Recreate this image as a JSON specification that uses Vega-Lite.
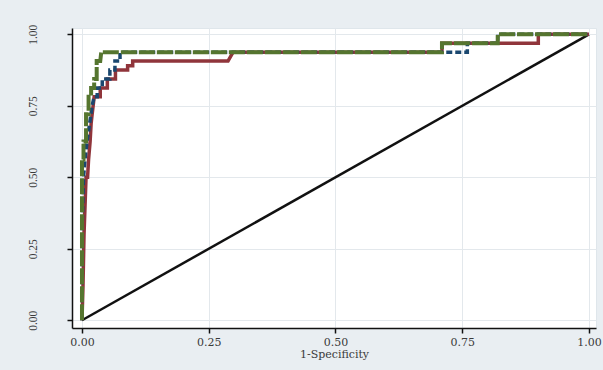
{
  "$schema": "https://vega.github.io/schema/vega-lite/v6.json",
  "width": 524,
  "height": 300,
  "autosize": "none",
  "padding": {"left": 72, "top": 28, "right": 7, "bottom": 42},
  "background": "#e9eef2",
  "config": {
    "view": {"fill": "white", "stroke": "#dfe6eb", "strokeWidth": 1},
    "font": "Liberation Serif",
    "axis": {
      "labelFont": "Liberation Serif",
      "titleFont": "DejaVu Serif",
      "labelFontSize": 11,
      "titleFontSize": 11,
      "titleFontWeight": "normal",
      "labelColor": "#3a3a3a",
      "titleColor": "#3a3a3a",
      "domainColor": "#111111",
      "domainWidth": 1.5,
      "tickColor": "#111111",
      "tickWidth": 1.5,
      "tickSize": 5,
      "gridColor": "#e3e8ec",
      "gridWidth": 1
    }
  },
  "datasets": {
    "roc": [
      {"model": "m1", "fpr": 0, "tpr": 0},
      {"model": "m1", "fpr": 0.002, "tpr": 0.12},
      {"model": "m1", "fpr": 0.004, "tpr": 0.3},
      {"model": "m1", "fpr": 0.006, "tpr": 0.4},
      {"model": "m1", "fpr": 0.008, "tpr": 0.5},
      {"model": "m1", "fpr": 0.011, "tpr": 0.5},
      {"model": "m1", "fpr": 0.013, "tpr": 0.5625},
      {"model": "m1", "fpr": 0.016, "tpr": 0.625},
      {"model": "m1", "fpr": 0.018, "tpr": 0.6875},
      {"model": "m1", "fpr": 0.02, "tpr": 0.72},
      {"model": "m1", "fpr": 0.022, "tpr": 0.75},
      {"model": "m1", "fpr": 0.024, "tpr": 0.78125},
      {"model": "m1", "fpr": 0.036, "tpr": 0.78125},
      {"model": "m1", "fpr": 0.036, "tpr": 0.8125},
      {"model": "m1", "fpr": 0.05, "tpr": 0.8125},
      {"model": "m1", "fpr": 0.05, "tpr": 0.84375},
      {"model": "m1", "fpr": 0.066, "tpr": 0.84375},
      {"model": "m1", "fpr": 0.066, "tpr": 0.875},
      {"model": "m1", "fpr": 0.09, "tpr": 0.875},
      {"model": "m1", "fpr": 0.09, "tpr": 0.89},
      {"model": "m1", "fpr": 0.1, "tpr": 0.89},
      {"model": "m1", "fpr": 0.1, "tpr": 0.90625},
      {"model": "m1", "fpr": 0.288, "tpr": 0.90625},
      {"model": "m1", "fpr": 0.298, "tpr": 0.9375},
      {"model": "m1", "fpr": 0.71, "tpr": 0.9375},
      {"model": "m1", "fpr": 0.71, "tpr": 0.96875},
      {"model": "m1", "fpr": 0.9, "tpr": 0.96875},
      {"model": "m1", "fpr": 0.9, "tpr": 1},
      {"model": "m1", "fpr": 1, "tpr": 1},
      {"model": "m2", "fpr": 0, "tpr": 0},
      {"model": "m2", "fpr": 0, "tpr": 0.3},
      {"model": "m2", "fpr": 0.003, "tpr": 0.5},
      {"model": "m2", "fpr": 0.006, "tpr": 0.5625},
      {"model": "m2", "fpr": 0.01, "tpr": 0.625},
      {"model": "m2", "fpr": 0.015, "tpr": 0.6875},
      {"model": "m2", "fpr": 0.02, "tpr": 0.75},
      {"model": "m2", "fpr": 0.024, "tpr": 0.78125},
      {"model": "m2", "fpr": 0.03, "tpr": 0.78125},
      {"model": "m2", "fpr": 0.03, "tpr": 0.8125},
      {"model": "m2", "fpr": 0.04, "tpr": 0.8125},
      {"model": "m2", "fpr": 0.04, "tpr": 0.84375},
      {"model": "m2", "fpr": 0.055, "tpr": 0.84375},
      {"model": "m2", "fpr": 0.055, "tpr": 0.875},
      {"model": "m2", "fpr": 0.065, "tpr": 0.875},
      {"model": "m2", "fpr": 0.065, "tpr": 0.90625},
      {"model": "m2", "fpr": 0.075, "tpr": 0.90625},
      {"model": "m2", "fpr": 0.075, "tpr": 0.9375},
      {"model": "m2", "fpr": 0.76, "tpr": 0.9375},
      {"model": "m2", "fpr": 0.76, "tpr": 0.96875},
      {"model": "m2", "fpr": 0.82, "tpr": 0.96875},
      {"model": "m2", "fpr": 0.82, "tpr": 1},
      {"model": "m2", "fpr": 1, "tpr": 1},
      {"model": "m3", "fpr": 0, "tpr": 0},
      {"model": "m3", "fpr": 0, "tpr": 0.5625},
      {"model": "m3", "fpr": 0.003, "tpr": 0.5625},
      {"model": "m3", "fpr": 0.003, "tpr": 0.625},
      {"model": "m3", "fpr": 0.008, "tpr": 0.625},
      {"model": "m3", "fpr": 0.008, "tpr": 0.72},
      {"model": "m3", "fpr": 0.013, "tpr": 0.72},
      {"model": "m3", "fpr": 0.013, "tpr": 0.78125},
      {"model": "m3", "fpr": 0.018, "tpr": 0.78125},
      {"model": "m3", "fpr": 0.018, "tpr": 0.8125},
      {"model": "m3", "fpr": 0.024, "tpr": 0.8125},
      {"model": "m3", "fpr": 0.024, "tpr": 0.84375},
      {"model": "m3", "fpr": 0.029, "tpr": 0.84375},
      {"model": "m3", "fpr": 0.029, "tpr": 0.90625},
      {"model": "m3", "fpr": 0.036, "tpr": 0.90625},
      {"model": "m3", "fpr": 0.038, "tpr": 0.9375},
      {"model": "m3", "fpr": 0.71, "tpr": 0.9375},
      {"model": "m3", "fpr": 0.71, "tpr": 0.96875},
      {"model": "m3", "fpr": 0.82, "tpr": 0.96875},
      {"model": "m3", "fpr": 0.82, "tpr": 1},
      {"model": "m3", "fpr": 1, "tpr": 1}
    ],
    "ref": [
      {"fpr": 0, "tpr": 0},
      {"fpr": 1, "tpr": 1}
    ]
  },
  "encoding": {
    "x": {
      "field": "fpr", "type": "quantitative",
      "scale": {"domain": [-0.0197, 1.0138], "nice": false, "zero": false},
      "axis": {
        "title": "1-Specificity", "values": [0, 0.25, 0.5, 0.75, 1], "format": ".2f",
        "labelFont": "DejaVu Serif",
        "offset": 0, "labelPadding": 3, "titlePadding": 1
      }
    },
    "y": {
      "field": "tpr", "type": "quantitative",
      "scale": {"domain": [-0.027, 1.022], "nice": false, "zero": false},
      "axis": {
        "title": null, "values": [0, 0.25, 0.5, 0.75, 1], "format": ".2f",
        "labelAngle": 270, "labelPadding": 29, "labelFontSize": 11.5
      }
    },
    "order": [{"field": "fpr", "type": "quantitative"}, {"field": "tpr", "type": "quantitative"}]
  },
  "layer": [
    {
      "data": {"name": "ref"},
      "mark": {"type": "line", "color": "#111111", "strokeWidth": 2.5},
      "encoding": {}
    },
    {
      "data": {"name": "roc"},
      "transform": [{"filter": "datum.model === 'm1'"}],
      "mark": {"type": "line", "color": "#90353b", "strokeWidth": 3.5},
      "encoding": {}
    },
    {
      "data": {"name": "roc"},
      "transform": [{"filter": "datum.model === 'm2'"}],
      "mark": {"type": "line", "color": "#1a476f", "strokeWidth": 3.5, "strokeDash": [6, 3]},
      "encoding": {}
    },
    {
      "data": {"name": "roc"},
      "transform": [{"filter": "datum.model === 'm3'"}],
      "mark": {"type": "line", "color": "#55752f", "strokeWidth": 4, "strokeDash": [16, 2]},
      "encoding": {}
    }
  ]
}
